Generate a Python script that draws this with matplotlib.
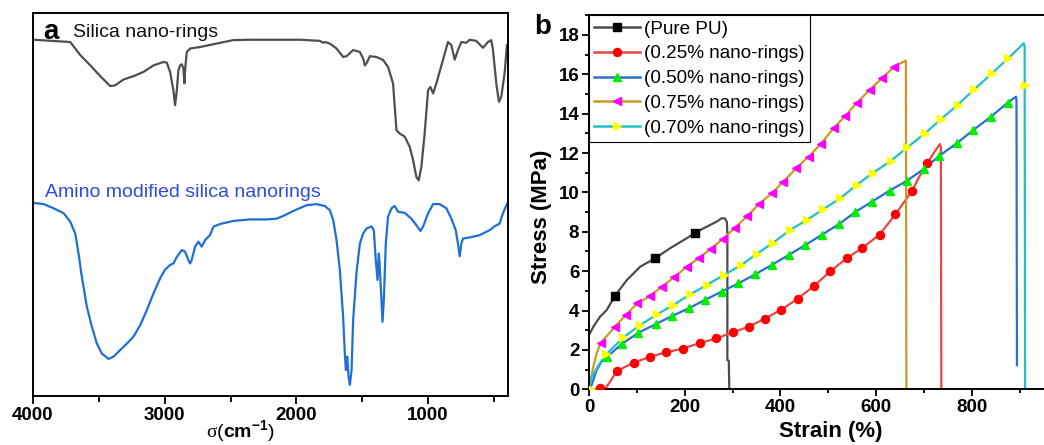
import matplotlib
matplotlib.use("Agg")
import matplotlib.pyplot as plt
from matplotlib.ticker import MultipleLocator, FixedLocator
from matplotlib.lines import Line2D

plt.rcParams['font.family'] = ['Liberation Sans', 'DejaVu Sans']
plt.rcParams['mathtext.fontset'] = 'custom'
plt.rcParams['mathtext.rm'] = 'Liberation Serif'
plt.rcParams['mathtext.it'] = 'Liberation Serif'
plt.rcParams['mathtext.bf'] = 'Liberation Sans:bold'

# ---------------- Panel a: FTIR spectra ----------------
silica_wn = [3995, 3717, 3641, 3565, 3489, 3414, 3376, 3313, 3237, 3161, 3085, 3009, 2984,
             2959, 2934, 2921, 2908, 2896, 2883, 2870, 2858, 2850, 2843, 2832, 2807, 2731,
             2605, 2479, 2352, 2226, 1973, 1822, 1796, 1784, 1746, 1695, 1645, 1619, 1569,
             1518, 1493, 1480, 1468, 1442, 1392, 1341, 1304, 1266, 1240, 1215, 1177, 1139,
             1114, 1089, 1071, 1051, 1026, 1000, 983, 962, 937, 887, 849, 823, 798, 773,
             747, 710, 684, 634, 583, 545, 520, 507, 482, 462, 444, 419, 401]
silica_T = [93.0, 92.4, 89.0, 86.3, 83.5, 80.9, 81.1, 82.6, 83.5, 84.6, 86.3, 87.2, 87.0,
            84.6, 79.8, 75.9, 79.8, 85.0, 86.3, 86.6, 85.5, 81.6, 85.9, 89.8, 90.7, 91.1,
            92.0, 92.9, 93.0, 93.0, 93.0, 92.7, 92.2, 92.4, 92.0, 90.7, 88.5, 88.7, 90.3,
            89.8, 88.1, 86.3, 86.8, 88.7, 88.5, 87.7, 85.9, 81.6, 69.4, 68.5, 67.7, 65.0,
            61.6, 57.2, 56.3, 59.8, 68.5, 79.8, 80.7, 79.0, 81.6, 87.7, 92.4, 91.6, 87.8,
            90.3, 92.4, 92.2, 93.0, 92.7, 90.9, 92.4, 92.9, 90.3, 81.6, 76.8, 78.1, 84.2, 91.6]

amino_wn = [3995, 3919, 3843, 3767, 3717, 3679, 3654, 3629, 3591, 3553, 3515, 3477, 3426,
            3388, 3338, 3287, 3237, 3186, 3136, 3085, 3035, 2997, 2959, 2934, 2908, 2870,
            2845, 2820, 2807, 2795, 2769, 2744, 2719, 2693, 2656, 2630, 2580, 2479, 2352,
            2226, 2150, 2100, 2024, 1923, 1847, 1784, 1746, 1720, 1695, 1670, 1645, 1632,
            1624, 1614, 1604, 1594, 1581, 1569, 1544, 1518, 1493, 1468, 1430, 1412, 1397,
            1384, 1374, 1367, 1354, 1346, 1336, 1321, 1304, 1278, 1253, 1228, 1177, 1127,
            1089, 1058, 1038, 1000, 962, 912, 861, 823, 790, 773, 760, 747, 735, 684, 608,
            532, 495, 457, 432, 401]
amino_T = [50.4, 50.1, 49.0, 47.7, 45.5, 42.4, 37.2, 31.1, 23.3, 18.1, 13.7, 11.1, 9.7,
           10.3, 12.0, 13.7, 15.5, 18.5, 22.4, 26.8, 30.7, 33.0, 34.2, 34.6, 36.3, 38.1,
           37.7, 35.5, 34.6, 35.5, 39.0, 40.3, 39.0, 40.7, 42.0, 44.2, 44.9, 45.7, 46.1,
           46.1, 46.3, 47.0, 48.3, 49.8, 50.1, 49.6, 48.5, 45.9, 40.7, 32.9, 20.7, 11.1,
           6.8, 10.3, 5.0, 2.9, 6.8, 19.8, 32.0, 39.8, 42.4, 43.7, 44.3, 43.3, 35.5,
           30.3, 37.2, 33.7, 25.0, 19.4, 25.0, 39.8, 46.8, 49.0, 49.6, 48.1, 47.8, 46.3,
           44.6, 43.1, 44.2, 47.7, 50.1, 50.1, 49.0, 46.3, 43.3, 39.8, 36.5, 39.8, 41.1,
           41.4, 42.0, 43.3, 44.3, 45.0, 47.7, 50.1]

wn_ticks = [4000, 3000, 2000, 1000]

# ---------------- Panel b: stress-strain ----------------
pu_strain = [0, 9, 23, 37, 54, 79, 107, 138, 169, 204, 222, 246, 267, 277, 284, 288, 289, 289, 292, 293]
pu_stress = [2.76, 3.18, 3.69, 4.03, 4.74, 5.55, 6.23, 6.65, 7.16, 7.67, 7.96, 8.26, 8.52, 8.69, 8.68, 8.5, 7.9, 1.49, 1.45, 0]
pu_mk_strain = [54, 138, 222]
pu_mk_stress = [4.74, 6.65, 7.96]

r25_strain = [0, 33, 44, 58, 93, 128, 161, 196, 231, 266, 300, 334, 367, 401, 436, 469, 504,
              539, 571, 607, 640, 675, 690, 707, 720, 733, 735, 736]
r25_stress = [0, 0, 0.39, 0.93, 1.35, 1.66, 1.88, 2.07, 2.35, 2.59, 2.89, 3.19, 3.58, 4.04,
              4.60, 5.23, 5.99, 6.67, 7.18, 7.86, 8.88, 10.09, 10.8, 11.48, 12.0, 12.45, 12.3, 0]
r25_mk_strain = [23, 58, 93, 128, 161, 196, 231, 266, 300, 334, 367, 401, 436, 469, 504, 539,
                 571, 607, 640, 675, 707]
r25_mk_stress = [0.05, 0.93, 1.35, 1.66, 1.88, 2.07, 2.35, 2.59, 2.89, 3.19, 3.58, 4.04, 4.60,
                 5.23, 5.99, 6.67, 7.18, 7.86, 8.88, 10.09, 11.48]

r50_strain = [0, 4, 16, 26, 37, 68, 103, 140, 173, 208, 242, 277, 312, 347, 382, 417, 452,
              486, 523, 556, 591, 628, 664, 699, 732, 768, 803, 840, 875, 892, 893, 894]
r50_stress = [0, 0.13, 0.98, 1.40, 1.63, 2.30, 2.87, 3.32, 3.72, 4.11, 4.54, 4.96, 5.38, 5.84,
              6.32, 6.82, 7.33, 7.84, 8.40, 9.00, 9.53, 10.09, 10.59, 11.18, 11.86, 12.49,
              13.17, 13.85, 14.56, 14.86, 14.7, 1.23]
r50_mk_strain = [37, 68, 103, 140, 173, 208, 242, 277, 312, 347, 382, 417, 452, 486, 523, 556,
                 591, 628, 664, 699, 732, 768, 803, 840, 875]
r50_mk_stress = [1.63, 2.30, 2.87, 3.32, 3.72, 4.11, 4.54, 4.96, 5.38, 5.84, 6.32, 6.82, 7.33,
                 7.84, 8.40, 9.00, 9.53, 10.09, 10.59, 11.18, 11.86, 12.49, 13.17, 13.85, 14.56]

r75_strain = [0, 9, 16, 24, 54, 77, 101, 128, 152, 178, 204, 229, 254, 279, 305, 331, 355,
              382, 406, 433, 459, 484, 511, 535, 560, 586, 612, 638, 661, 662, 663]
r75_stress = [0, 1.15, 1.83, 2.34, 3.18, 3.78, 4.37, 4.74, 5.22, 5.69, 6.23, 6.65, 7.13, 7.62,
              8.21, 8.80, 9.41, 9.96, 10.55, 11.23, 11.82, 12.46, 13.26, 13.88, 14.56, 15.20,
              15.80, 16.39, 16.69, 16.6, 0]
r75_mk_strain = [24, 54, 77, 101, 128, 152, 178, 204, 229, 254, 279, 305, 331, 355, 382, 406,
                 433, 459, 484, 511, 535, 560, 586, 612, 638]
r75_mk_stress = [2.34, 3.18, 3.78, 4.37, 4.74, 5.22, 5.69, 6.23, 6.65, 7.13, 7.62, 8.21, 8.80,
                 9.41, 9.96, 10.55, 11.23, 11.82, 12.46, 13.26, 13.88, 14.56, 15.20, 15.80, 16.39]

r70_strain = [0, 5, 20, 36, 72, 107, 143, 176, 211, 246, 282, 318, 350, 385, 420, 455, 489,
              525, 559, 594, 630, 665, 702, 735, 770, 805, 842, 876, 908, 910, 911]
r70_stress = [0, 0.6, 1.23, 1.78, 2.64, 3.27, 3.82, 4.28, 4.82, 5.30, 5.81, 6.31, 6.87, 7.45,
              8.09, 8.60, 9.14, 9.70, 10.38, 11.00, 11.59, 12.29, 13.0, 13.71, 14.44, 15.23,
              16.05, 16.81, 17.57, 17.4, 0]
r70_mk_strain = [4, 36, 72, 107, 143, 176, 211, 246, 282, 318, 350, 385, 420, 455, 489, 525,
                 559, 594, 630, 665, 702, 735, 770, 805, 842, 876, 911]
r70_mk_stress = [0, 1.78, 2.64, 3.27, 3.82, 4.28, 4.82, 5.30, 5.81, 6.31, 6.87, 7.45, 8.09,
                 8.60, 9.14, 9.70, 10.38, 11.00, 11.59, 12.29, 13.0, 13.71, 14.44, 15.23,
                 16.05, 16.81, 15.45]

strain_ticks = [0, 200, 400, 600, 800]
labels = ['(Pure PU)', '(0.25% nano-rings)', '(0.50% nano-rings)',
          '(0.75% nano-rings)', '(0.70% nano-rings)']

fig = plt.figure(figsize=(10.44, 4.45), dpi=100)

# ---- panel a ----
axa = fig.add_axes([0.0316, 0.110, 0.455, 0.861])
axa.plot(silica_wn, silica_T, color='#4f4f4f', lw=1.6)
axa.plot(amino_wn, amino_T, color='#1f6fd6', lw=1.6)
axa.set_xlim(4000, 393)
axa.set_ylim(0, 100)
axa.set_yticks([])
axa.set_xticks(wn_ticks)
axa.xaxis.set_minor_locator(MultipleLocator(500))
axa.tick_params(axis='x', which='major', direction='out', length=6, width=1.3, labelsize=13.5, pad=2)
axa.tick_params(axis='x', which='minor', direction='out', length=4, width=1.3)
for lab in axa.get_xticklabels():
    lab.set_fontweight('bold')
for s in axa.spines.values():
    s.set_linewidth(1.4)
axa.set_xlabel(r'$\sigma$($\mathbf{cm^{-1}}$)', fontsize=14)
axa.xaxis.set_label_coords(0.436, -0.058)
axa.text(0.021, 0.985, 'a', transform=axa.transAxes, fontsize=20, fontweight='bold',
         va='top', ha='left')
axa.text(0.085, 0.95, 'Silica nano-rings', transform=axa.transAxes, fontsize=14,
         va='center', ha='left', color='#111111')
axa.text(0.025, 0.53, 'Amino modified silica nanorings', transform=axa.transAxes, fontsize=14,
         va='center', ha='left', color='#2f4be0')

# ---- panel b ----
axb = fig.add_axes([0.5642, 0.125, 0.4585, 0.841])
series = [
    (pu_strain, pu_stress, pu_mk_strain, pu_mk_stress, '#4d4d4d', 's', 'black'),
    (r25_strain, r25_stress, r25_mk_strain, r25_mk_stress, '#e84545', 'o', '#ff0000'),
    (r50_strain, r50_stress, r50_mk_strain, r50_mk_stress, '#2a6fd2', '^', '#00ee00'),
    (r75_strain, r75_stress, r75_mk_strain, r75_mk_stress, '#c99a22', '<', '#ff00ff'),
    (r70_strain, r70_stress, r70_mk_strain, r70_mk_stress, '#22c0c4', '>', '#ffff00'),
]
handles = []
for (sx, sy, mx, my, lc, mk, mc), lab in zip(series, labels):
    axb.plot(sx, sy, color=lc, lw=1.6, zorder=2)
    axb.plot(mx, my, ls='none', marker=mk, ms=5.8, mfc=mc, mec=mc, zorder=3)
    handles.append(Line2D([], [], color=lc, lw=1.8, marker=mk, ms=5.8, mfc=mc, mec=mc))
axb.set_xlim(0, 1000)
axb.set_ylim(0, 19)
axb.xaxis.set_major_locator(FixedLocator(strain_ticks))
axb.xaxis.set_minor_locator(FixedLocator([100, 300, 500, 700, 900]))
axb.yaxis.set_major_locator(MultipleLocator(2))
axb.yaxis.set_minor_locator(MultipleLocator(1))
axb.tick_params(which='major', direction='out', length=5, width=1.3, labelsize=13.5, pad=2)
axb.tick_params(which='minor', direction='out', length=3, width=1.3)
for lab in axb.get_xticklabels() + axb.get_yticklabels():
    lab.set_fontweight('bold')
for s in axb.spines.values():
    s.set_linewidth(1.4)
axb.set_xlabel('Strain (%)', fontsize=16, fontweight='bold')
axb.xaxis.set_label_coords((831 - 589) / (0.4585 * 1044), -0.085)
axb.set_ylabel('Stress (MPa)', fontsize=16, fontweight='bold')
axb.yaxis.set_label_coords(-0.077, 0.46)
leg = axb.legend(handles, labels, loc='upper left', bbox_to_anchor=(0, 1), borderaxespad=0,
                 fontsize=13.6, frameon=True, fancybox=False, framealpha=1,
                 edgecolor='black', handlelength=2.4, handletextpad=0.25,
                 labelspacing=0.4, borderpad=0.28)
leg.get_frame().set_linewidth(0.8)
fig.text(543 / 1044, 1 - 27 / 445, 'b', fontsize=20, fontweight='bold', ha='center', va='center')

fig.savefig('out.png', dpi=100)
